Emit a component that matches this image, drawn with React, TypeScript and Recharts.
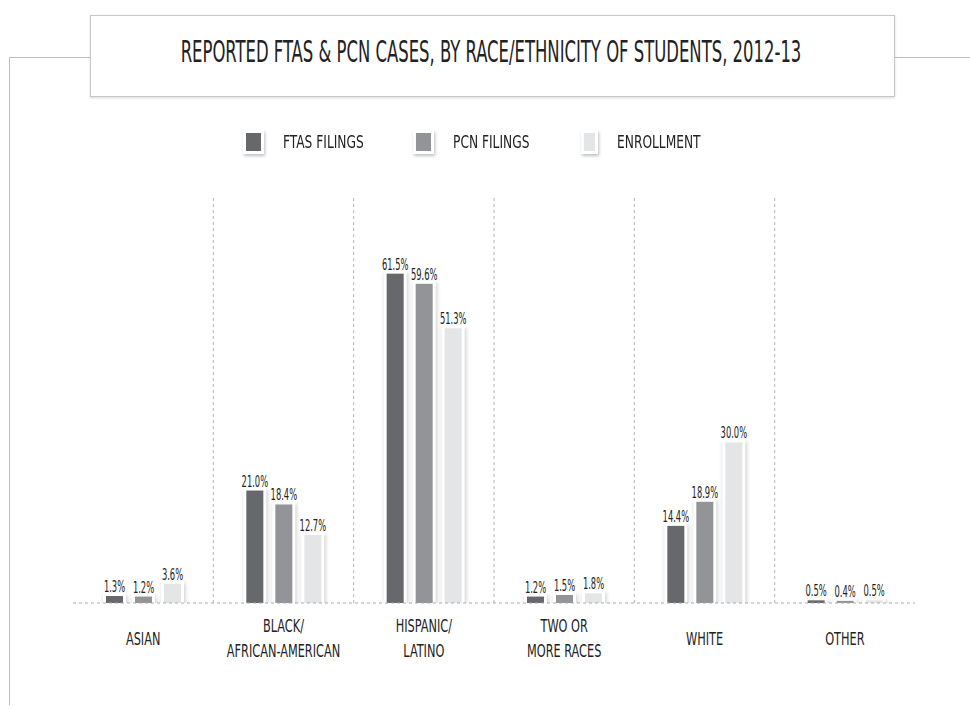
import React from 'react';
import { BarChart, Bar, XAxis, YAxis, ReferenceLine, LabelList } from 'recharts';

const categories = ['ASIAN', 'BLACK/\nAFRICAN-AMERICAN', 'HISPANIC/\nLATINO', 'TWO OR\nMORE RACES', 'WHITE', 'OTHER'];
const ftasFilings = [1.3, 21.0, 61.5, 1.2, 14.4, 0.5];
const pcnFilings = [1.2, 18.4, 59.6, 1.5, 18.9, 0.4];
const enrollment = [3.6, 12.7, 51.3, 1.8, 30.0, 0.5];
const seriesNames = ['FTAS FILINGS', 'PCN FILINGS', 'ENROLLMENT'];
const seriesColors = ['#67686c', '#939497', '#e4e5e7'];

const title = 'REPORTED FTAS & PCN CASES, BY RACE/ETHNICITY OF STUDENTS, 2012-13';

const data = categories.map((name, i) => ({
    name,
    ftas: ftasFilings[i],
    pcn: pcnFilings[i],
    enrollment: enrollment[i],
}));

const FONT = '"Liberation Sans Narrow", "DejaVu Sans Condensed", "Roboto", sans-serif';
const INK = '#222';
const RULE = '#bdbdbd';

function BarShape(props: any) {
    const { x, y, width, height, fill } = props;
    if (width == null || height == null) return null;
    return (
        <g>
            <rect
                x={x - 3}
                y={y - 3}
                width={width + 6}
                height={height + 6}
                fill="#fff"
                style={{ filter: 'drop-shadow(1px 2px 2px rgba(0,0,0,0.22))' }}
            />
            <rect x={x} y={y} width={width} height={height} fill={fill} />
        </g>
    );
}

function ValueLabel(props: any) {
    const { x, y, width, value } = props;
    return (
        <text
            transform={`translate(${x + width / 2},${y - 4}) scale(0.6,1)`}
            textAnchor="middle"
            fontFamily={FONT}
            fontSize={15.5}
            fill={INK}
        >
            {Number(value).toFixed(1)}%
        </text>
    );
}

function CategoryTick(props: any) {
    const { x, y, payload } = props;
    const lines: string[] = String(payload.value).split('\n');
    const offsets = lines.length === 1 ? [41.5] : [28.5, 53.5];
    return (
        <g>
            {lines.map((line, i) => (
                <text
                    key={i}
                    transform={`translate(${x},${y + offsets[i]}) scale(0.7,1)`}
                    textAnchor="middle"
                    fontFamily={FONT}
                    fontSize={18}
                    fill={INK}
                >
                    {line}
                </text>
            ))}
        </g>
    );
}

function LegendRow() {
    const widths = [170, 168, 140];
    return (
        <div style={{ position: 'absolute', left: 0, top: 130, display: 'flex', paddingLeft: 243 }}>
            {seriesNames.map((name, i) => (
                <div key={name} style={{ display: 'flex', alignItems: 'center', width: widths[i] }}>
                    <div
                        style={{
                            width: 15,
                            height: 18,
                            background: seriesColors[i],
                            border: '3px solid #fff',
                            boxShadow: '1px 2px 3px rgba(0,0,0,0.25)',
                        }}
                    />
                    <span
                        style={{
                            marginLeft: 19,
                            fontFamily: FONT,
                            fontSize: 17,
                            color: INK,
                            display: 'inline-block',
                            transform: 'scaleX(0.8)',
                            transformOrigin: 'left center',
                            whiteSpace: 'nowrap',
                        }}
                    >
                        {name}
                    </span>
                </div>
            ))}
        </div>
    );
}

function TitleFrame() {
    return (
        <svg width={970} height={709} style={{ position: 'absolute', left: 0, top: 0 }}>
            <defs>
                <filter id="boxShadow" x="-5%" y="-20%" width="110%" height="150%">
                    <feDropShadow dx="0" dy="1" stdDeviation="1" floodColor="#000" floodOpacity="0.15" />
                </filter>
            </defs>
            <line x1={10} y1={57.5} x2={90} y2={57.5} stroke={RULE} />
            <line x1={895} y1={57.5} x2={970} y2={57.5} stroke={RULE} />
            <line x1={9.5} y1={57} x2={9.5} y2={705} stroke={RULE} />
            <rect x={90.5} y={15.5} width={804} height={81} fill="#fff" stroke="#c8c8c8" filter="url(#boxShadow)" />
            <text
                transform="translate(491,62) scale(0.61,1)"
                textAnchor="middle"
                fontFamily={FONT}
                fontSize={30}
                fill={INK}
            >
                {title}
            </text>
        </svg>
    );
}

export default function App() {
    return (
        <div style={{ position: 'absolute', left: 0, top: 0, width: 970, height: 709, background: '#fff', overflow: 'hidden' }}>
            <TitleFrame />
            <LegendRow />
            <div style={{ position: 'absolute', left: 0, top: 0 }}>
                <BarChart
                    width={970}
                    height={709}
                    data={data}
                    margin={{ top: 196, right: 55, bottom: 0, left: 73 }}
                    barSize={17}
                    barGap={12}
                >
                    <XAxis
                        dataKey="name"
                        axisLine={false}
                        tickLine={false}
                        tickSize={0}
                        tickMargin={0}
                        tick={<CategoryTick />}
                        interval={0}
                        height={106}
                    />
                    <YAxis domain={[0, 76]} allowDataOverflow hide />
                    {categories.slice(1).map((c) => (
                        <ReferenceLine key={c} x={c} position="start" stroke="#b5b5b5" strokeDasharray="3 3" />
                    ))}
                    <ReferenceLine y={0} stroke="#aaaaaa" strokeDasharray="3 3" />
                    <Bar dataKey="ftas" name={seriesNames[0]} fill={seriesColors[0]} shape={<BarShape />} isAnimationActive={false}>
                        <LabelList dataKey="ftas" content={<ValueLabel />} />
                    </Bar>
                    <Bar dataKey="pcn" name={seriesNames[1]} fill={seriesColors[1]} shape={<BarShape />} isAnimationActive={false}>
                        <LabelList dataKey="pcn" content={<ValueLabel />} />
                    </Bar>
                    <Bar dataKey="enrollment" name={seriesNames[2]} fill={seriesColors[2]} shape={<BarShape />} isAnimationActive={false}>
                        <LabelList dataKey="enrollment" content={<ValueLabel />} />
                    </Bar>
                </BarChart>
            </div>
        </div>
    );
}
